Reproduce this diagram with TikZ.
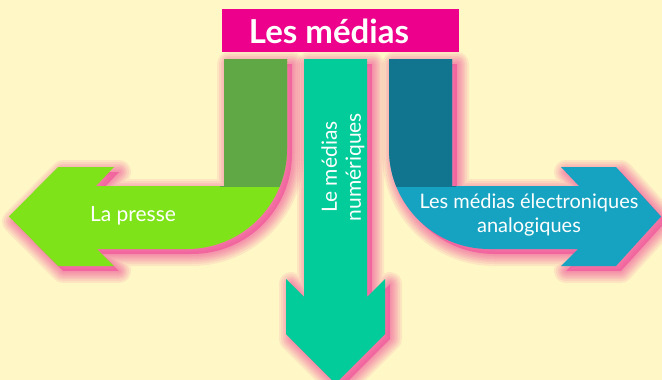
\documentclass[tikz,border=0pt]{standalone}
\usepackage{fontspec}
\setmainfont{Lato}
\definecolor{bgc}{RGB}{255,248,198}
\definecolor{titlepink}{RGB}{236,0,140}
\definecolor{glowpink}{RGB}{240,70,152}
\definecolor{dkgreen}{RGB}{96,168,70}
\definecolor{ltgreen}{RGB}{127,227,26}
\definecolor{midteal}{RGB}{1,204,154}
\definecolor{dkteal}{RGB}{18,117,143}
\definecolor{ltblue}{RGB}{22,163,193}
\tikzset{
  labeltext/.style={text=white, font=\fontsize{21}{24}\selectfont, align=center},
  titletext/.style={text=white, font=\fontsize{33}{36}\selectfont\bfseries},
}
\newcommand{\leftarrowpath}{(224,59) -- (287,59) -- (287,149) .. controls (287,204.2) and (242.2,249) .. (187,249) -- (97,249) -- (114,266) -- (58,266) -- (9,216.5) -- (58,167) -- (114,167) -- (96,186) -- (224,186) -- cycle}
\newcommand{\rightarrowpath}{(452,59) -- (389,59) -- (389,149) .. controls (389,204.2) and (433.8,249) .. (489,249) -- (578,249) -- (561,266) -- (616,266) -- (661,216.5) -- (616,167) -- (561,167) -- (579,186) -- (452,186) -- cycle}
\newcommand{\midarrowpath}{(304,59) -- (367,59) -- (367,297) -- (385,279) -- (385,334) -- (335.5,383.5) -- (286,334) -- (286,279) -- (304,297) -- cycle}
\newcommand{\glow}[1]{%
  \begin{scope}[shift={(5,5)}]
    \foreach \w in {24,20,16,13,10,7,4}{
      \draw[glowpink, line width=\w pt, opacity=0.1, line join=round] #1;
    }
    \fill[glowpink, opacity=0.6] #1;
  \end{scope}}
\begin{document}
\begin{tikzpicture}[x=1pt,y=-1pt]
\fill[bgc] (0,0) rectangle (662,380);
\useasboundingbox (0,0) rectangle (662,380);
% shadows
\glow{\leftarrowpath}
\glow{\midarrowpath}
\glow{\rightarrowpath}
% left arrow
\fill[ltgreen] \leftarrowpath;
\begin{scope}
  \clip (220,0) rectangle (300,186);
  \fill[dkgreen] \leftarrowpath;
\end{scope}
% middle arrow
\fill[midteal] \midarrowpath;
% right arrow
\fill[ltblue] \rightarrowpath;
\begin{scope}
  \clip (380,0) rectangle (456,186);
  \fill[dkteal] \rightarrowpath;
\end{scope}
% title
\node[fill=titlepink, minimum width=237pt, minimum height=43pt, inner sep=0pt] (titlebox) at (340.5,30.5) {};
\node[titletext, anchor=base] (title) at (329,43) {Les médias};
% labels
\node[labeltext] (presse) at (133,216) {La presse};
\node[labeltext, rotate=90] (num) at (343,167) {Le médias\\numériques};
\node[labeltext, font=\fontsize{20}{24}\selectfont] (elec) at (529,215) {Les médias électroniques\\analogiques};
\end{tikzpicture}
\end{document}
